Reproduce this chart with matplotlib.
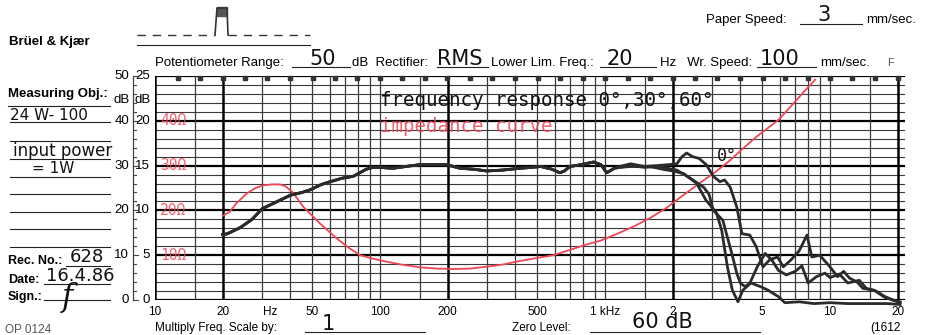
import numpy as np
import matplotlib.pyplot as plt
from matplotlib.lines import Line2D
from matplotlib.transforms import blended_transform_factory

# chart data (left scale units 0-25, 10 ohm = 5 units)
freq_lo = [20, 21, 24, 27, 30, 35, 40, 45, 49, 55, 60, 68, 76, 87, 93, 100, 114, 130,
           150, 175, 198, 227, 260, 298, 350, 418, 470, 518, 580, 630, 660, 698, 780,
           890, 960, 1017, 1100]
resp_lo = [7.3, 7.4, 8.1, 9.0, 10.2, 11.0, 11.7, 12.0, 12.3, 12.9, 13.2, 13.6, 13.8,
           14.6, 14.8, 14.8, 14.7, 14.9, 15.1, 15.1, 15.1, 14.7, 14.6, 14.4, 14.5, 14.7,
           14.8, 14.9, 14.6, 14.2, 14.4, 14.9, 15.1, 15.4, 15.1, 14.2, 14.7]

freq_0 = [1160, 1300, 1500, 1700, 1900, 2085, 2200, 2307, 2450, 2620, 2820, 3030, 3245,
          3400, 3600, 3850, 4060, 4400, 4700, 5040, 5400, 5850, 6200, 6700, 7300, 7900,
          8300, 9000, 10000, 10800, 11500, 12200, 13200, 14000, 15700, 17500, 19000, 20500]
resp_0 = [14.9, 15.2, 14.9, 15.0, 15.1, 15.2, 16.0, 16.4, 16.0, 15.8, 15.1, 13.8, 13.2,
          13.4, 12.6, 10.4, 7.4, 7.25, 5.95, 3.7, 4.5, 4.8, 3.7, 4.46, 5.5, 7.25, 4.8,
          5.0, 3.7, 2.6, 3.2, 2.45, 2.0, 1.3, 1.1, 0.3, 0.0, -0.3]

freq_30 = [1160, 1300, 1500, 1700, 1900, 2085, 2390, 2740, 2900, 3030, 3340, 3500, 3660,
           3850, 4000, 4200, 4400, 4750, 5150, 5500, 5900, 6400, 7000, 7500, 8000, 8700,
           9500, 10000, 11000, 12000, 13500, 14500, 16000, 17500, 19000, 20500]
resp_30 = [14.8, 15.0, 14.8, 14.9, 14.7, 14.5, 13.6, 12.6, 11.8, 10.0, 8.9, 7.0, 5.2,
           3.0, 1.86, 1.5, 1.86, 3.7, 5.2, 4.5, 3.3, 2.8, 3.2, 3.8, 1.9, 2.6, 3.0, 2.5,
           2.9, 1.9, 2.2, 1.3, 1.0, 0.4, 0.0, -0.2]

freq_60 = [1160, 1300, 1580, 1800, 2000, 2240, 2560, 2800, 3130, 3300, 3500, 3680, 3900,
           4100, 4450, 4900, 5300, 5900, 6300, 7300, 8500, 10000, 12000, 15000, 18000, 20500]
resp_60 = [14.8, 14.9, 14.9, 14.6, 14.4, 14.1, 13.0, 11.2, 9.7, 7.8, 3.7, 1.1, -0.2,
           1.1, 1.9, 1.5, 1.1, 0.37, -0.3, -0.2, -0.4, -0.3, -0.4, -0.4, -0.4, -0.5]

imp_freq = [20, 21.5, 23, 25.6, 28, 30.3, 33, 35.9, 38, 41, 45.6, 50, 54, 59, 64, 72,
            81.6, 95, 107, 125, 150, 180, 211, 250, 298, 350, 418, 500, 590, 700, 828,
            950, 1160, 1340, 1600, 1880, 2200, 2620, 3100, 3600, 4100, 4700, 5300, 5900,
            6800, 7700, 8600]
imp_vals = [9.4, 9.85, 10.8, 11.9, 12.5, 12.8, 12.9, 12.9, 12.7, 12.0, 10.4, 9.4, 8.56,
            7.7, 6.9, 5.9, 5.0, 4.55, 4.28, 3.95, 3.65, 3.5, 3.46, 3.5, 3.72, 3.95, 4.35,
            4.7, 5.0, 5.6, 6.2, 6.6, 7.5, 8.2, 9.2, 10.3, 11.6, 13.0, 14.3, 15.6, 16.9,
            18.2, 19.2, 20.1, 21.8, 23.3, 24.6]

tick_freqs = [10, 20, 50, 100, 200, 500, 1000, 2000, 5000, 10000, 20000]
tick_labels = ['10', '20', '50', '100', '200', '500', '1 kHz', '2', '5', '10', '20']
left_outer = ['0', '10', '20', '30', '40', '50']
left_inner = ['0', '5', '10', '15', '20', '25']
ohm_levels = [5, 10, 15, 20]
ohm_labels = ['10Ω', '20Ω', '30Ω', '40Ω']

RED = '#ef4656'
INK = '#2b2b2b'
W, H = 925, 335

plt.rcParams['font.family'] = ['Liberation Sans', 'DejaVu Sans']

fig = plt.figure(figsize=(W / 100, H / 100), dpi=100)
fig.patch.set_facecolor('white')
ax = fig.add_axes([155 / W, 1 - 300 / H, 750 / W, 224 / H])
ax.set_xscale('log')
xmax = 10 ** (1 + 750 / 225)
ax.set_xlim(10, xmax)
ax.set_ylim(0, 25)
ax.set_xticks([])
ax.set_yticks([])
ax.minorticks_off()
for s in ax.spines.values():
    s.set_visible(False)

# recorder paper grid
for u in range(26):
    major = u % 5 == 0
    ax.axhline(u, color='black' if major else '#3a3a3a',
               lw=1.6 if major else 0.8, zorder=1)
for dec in [10, 100, 1000, 10000]:
    for m in [1, 1.5, 2, 3, 4, 5, 6, 7, 8, 9]:
        f = dec * m
        if f > 20000:
            continue
        thick = m == 2 or f == 10
        ax.axvline(f, color='black' if thick else '#3a3a3a',
                   lw=1.8 if thick else 0.9, zorder=1)
# time marks along the top edge
marks = 10 ** (1 + 0.1 * np.arange(1, 34))
ax.plot(marks, np.full(len(marks), 24.75), ls='none', marker='s', ms=3.2,
        color='#333333', clip_on=False, zorder=2)

# curves
ax.plot(imp_freq, imp_vals, color=RED, lw=1.3, zorder=3, clip_on=False)
for fh, rh in [(freq_60, resp_60), (freq_30, resp_30), (freq_0, resp_0)]:
    ax.plot(freq_lo + fh, resp_lo + rh, color=INK, lw=2.0, zorder=4,
            clip_on=False, solid_joinstyle='round')

# annotations inside the chart
ax.text(100, 22.3, 'frequency response 0°,30°,60°', family='DejaVu Sans Mono',
        fontsize=13.8, color='#111111', va='center', ha='left', zorder=5)
ax.text(100, 19.4, 'impedance curve', family='DejaVu Sans Mono', fontsize=13.8,
        color=RED, alpha=0.85, va='center', ha='left', zorder=5)
ax.text(3150, 16.1, '0°', family='DejaVu Sans Mono', fontsize=12,
        color='#111111', va='center', ha='left', zorder=5)
for lvl, lab in zip(ohm_levels, ohm_labels):
    ax.text(10.5, lvl, lab, color=RED, fontsize=10.5, va='center', ha='left',
            family='DejaVu Sans Mono', alpha=0.85, zorder=5)

# x tick labels
xt = blended_transform_factory(ax.transData, ax.transAxes)
for f, lab in zip(tick_freqs, tick_labels):
    ax.text(f, -0.025, lab, transform=xt, ha='center', va='top', fontsize=8.5)
ax.text(32.5, -0.025, 'Hz', transform=xt, ha='center', va='top', fontsize=8.5)

# left dB scales and ruler
bt = blended_transform_factory(ax.transAxes, ax.transData)
px = lambda x: (x - 155) / 750
for i, (a, b) in enumerate(zip(left_outer, left_inner)):
    ax.text(px(129), i * 5, a, transform=bt, ha='right', va='center', fontsize=9.5)
    ax.text(px(150), i * 5, b, transform=bt, ha='right', va='center', fontsize=9.5)
ax.text(px(130), 22.3, 'dB', transform=bt, ha='right', va='center', fontsize=9.5)
ax.text(px(151), 22.3, 'dB', transform=bt, ha='right', va='center', fontsize=9.5)
ax.plot([px(133), px(133)], [0, 25], transform=bt, color='#444', lw=0.9, clip_on=False)
for u in range(26):
    ln = 5 if u % 5 == 0 else 3
    ax.plot([px(133), px(133 + ln)], [u, u], transform=bt, color='#444', lw=0.8,
            clip_on=False)

# figure text helpers (pixel coords from top-left)
def t(x, y, s, **kw):
    kw.setdefault('fontsize', 8.5)
    kw.setdefault('va', 'baseline')
    fig.text(x / W, 1 - y / H, s, **kw)

def hline(x0, x1, y, lw=0.8):
    fig.add_artist(Line2D([x0 / W, x1 / W], [1 - y / H, 1 - y / H], color='#222', lw=lw))

HAND = dict(family='DejaVu Sans', color='#111')

# pulse symbol
fig.add_artist(Line2D([137 / W, 215 / W], [1 - 35 / H] * 2, color='#333', lw=1, ls=(0, (6, 5))))
fig.add_artist(Line2D([228 / W, 310 / W], [1 - 35 / H] * 2, color='#333', lw=1, ls=(0, (6, 5))))
fig.add_artist(Line2D([215 / W, 217 / W, 227 / W, 228 / W],
                      [1 - 35 / H, 1 - 8 / H, 1 - 8 / H, 1 - 35 / H], color='#333', lw=1.2))
fig.add_artist(plt.Rectangle((217 / W, 1 - 16 / H), 10 / W, 9 / H, color='#555'))
hline(137, 310, 45)

# header
t(706, 23, 'Paper Speed:', fontsize=9.5)
t(817, 21, '3', fontsize=15, **HAND)
hline(800, 862, 24)
t(866, 23, 'mm/sec.', fontsize=9.5)

t(9, 45, 'Brüel & Kjær', fontsize=9.5, fontweight='bold')
t(155, 66, 'Potentiometer Range:', fontsize=9.5)
t(309, 65, '50', fontsize=15, **HAND)
hline(292, 350, 67)
t(352, 66, 'dB  Rectifier:', fontsize=9.5)
t(437, 65, 'RMS', fontsize=15, **HAND)
hline(437, 488, 67)
t(491, 66, 'Lower Lim. Freq.:', fontsize=9.5)
t(606, 65, '20', fontsize=15, **HAND)
hline(600, 656, 67)
t(660, 66, 'Hz   Wr. Speed:', fontsize=9.5)
t(760, 65, '100', fontsize=15, **HAND)
hline(757, 816, 67)
t(820, 66, 'mm/sec.', fontsize=9.5)
t(887, 66, 'F', fontsize=8, color='#555')

# left panel
t(8, 97, 'Measuring Obj.:', fontsize=9.5, fontweight='bold')
hline(8, 110, 106)
t(10, 120, '24 W- 100', fontsize=11, **HAND)
for y in [122, 141, 159, 177, 194, 212, 229, 247]:
    hline(10, 110, y)
t(13, 156, 'input power', fontsize=12, **HAND)
t(32, 173, '= 1W', fontsize=11, **HAND)
t(8, 264, 'Rec. No.:', fontsize=9, fontweight='bold')
t(70, 262, '628', fontsize=13, **HAND)
hline(66, 110, 266)
t(8, 283, 'Date:', fontsize=9, fontweight='bold')
t(46, 281, '16.4.86', fontsize=13, **HAND)
hline(44, 110, 284)
t(8, 300, 'Sign.:', fontsize=9, fontweight='bold')
hline(44, 110, 300)
t(62, 306, 'f', fontsize=22, family='DejaVu Serif', style='italic', color='#111')
t(5, 333, 'OP 0124', fontsize=8.5, color='#555')

# bottom
t(155, 331, 'Multiply Freq. Scale by:', fontsize=8.5)
t(322, 330, '1', fontsize=15, **HAND)
hline(305, 425, 332)
t(512, 331, 'Zero Level:', fontsize=8.5)
t(632, 328, '60 dB', fontsize=15, **HAND)
hline(590, 760, 332)
t(870, 331, '(1612', fontsize=8.5)

fig.savefig('out.png', dpi=100, facecolor='white')
